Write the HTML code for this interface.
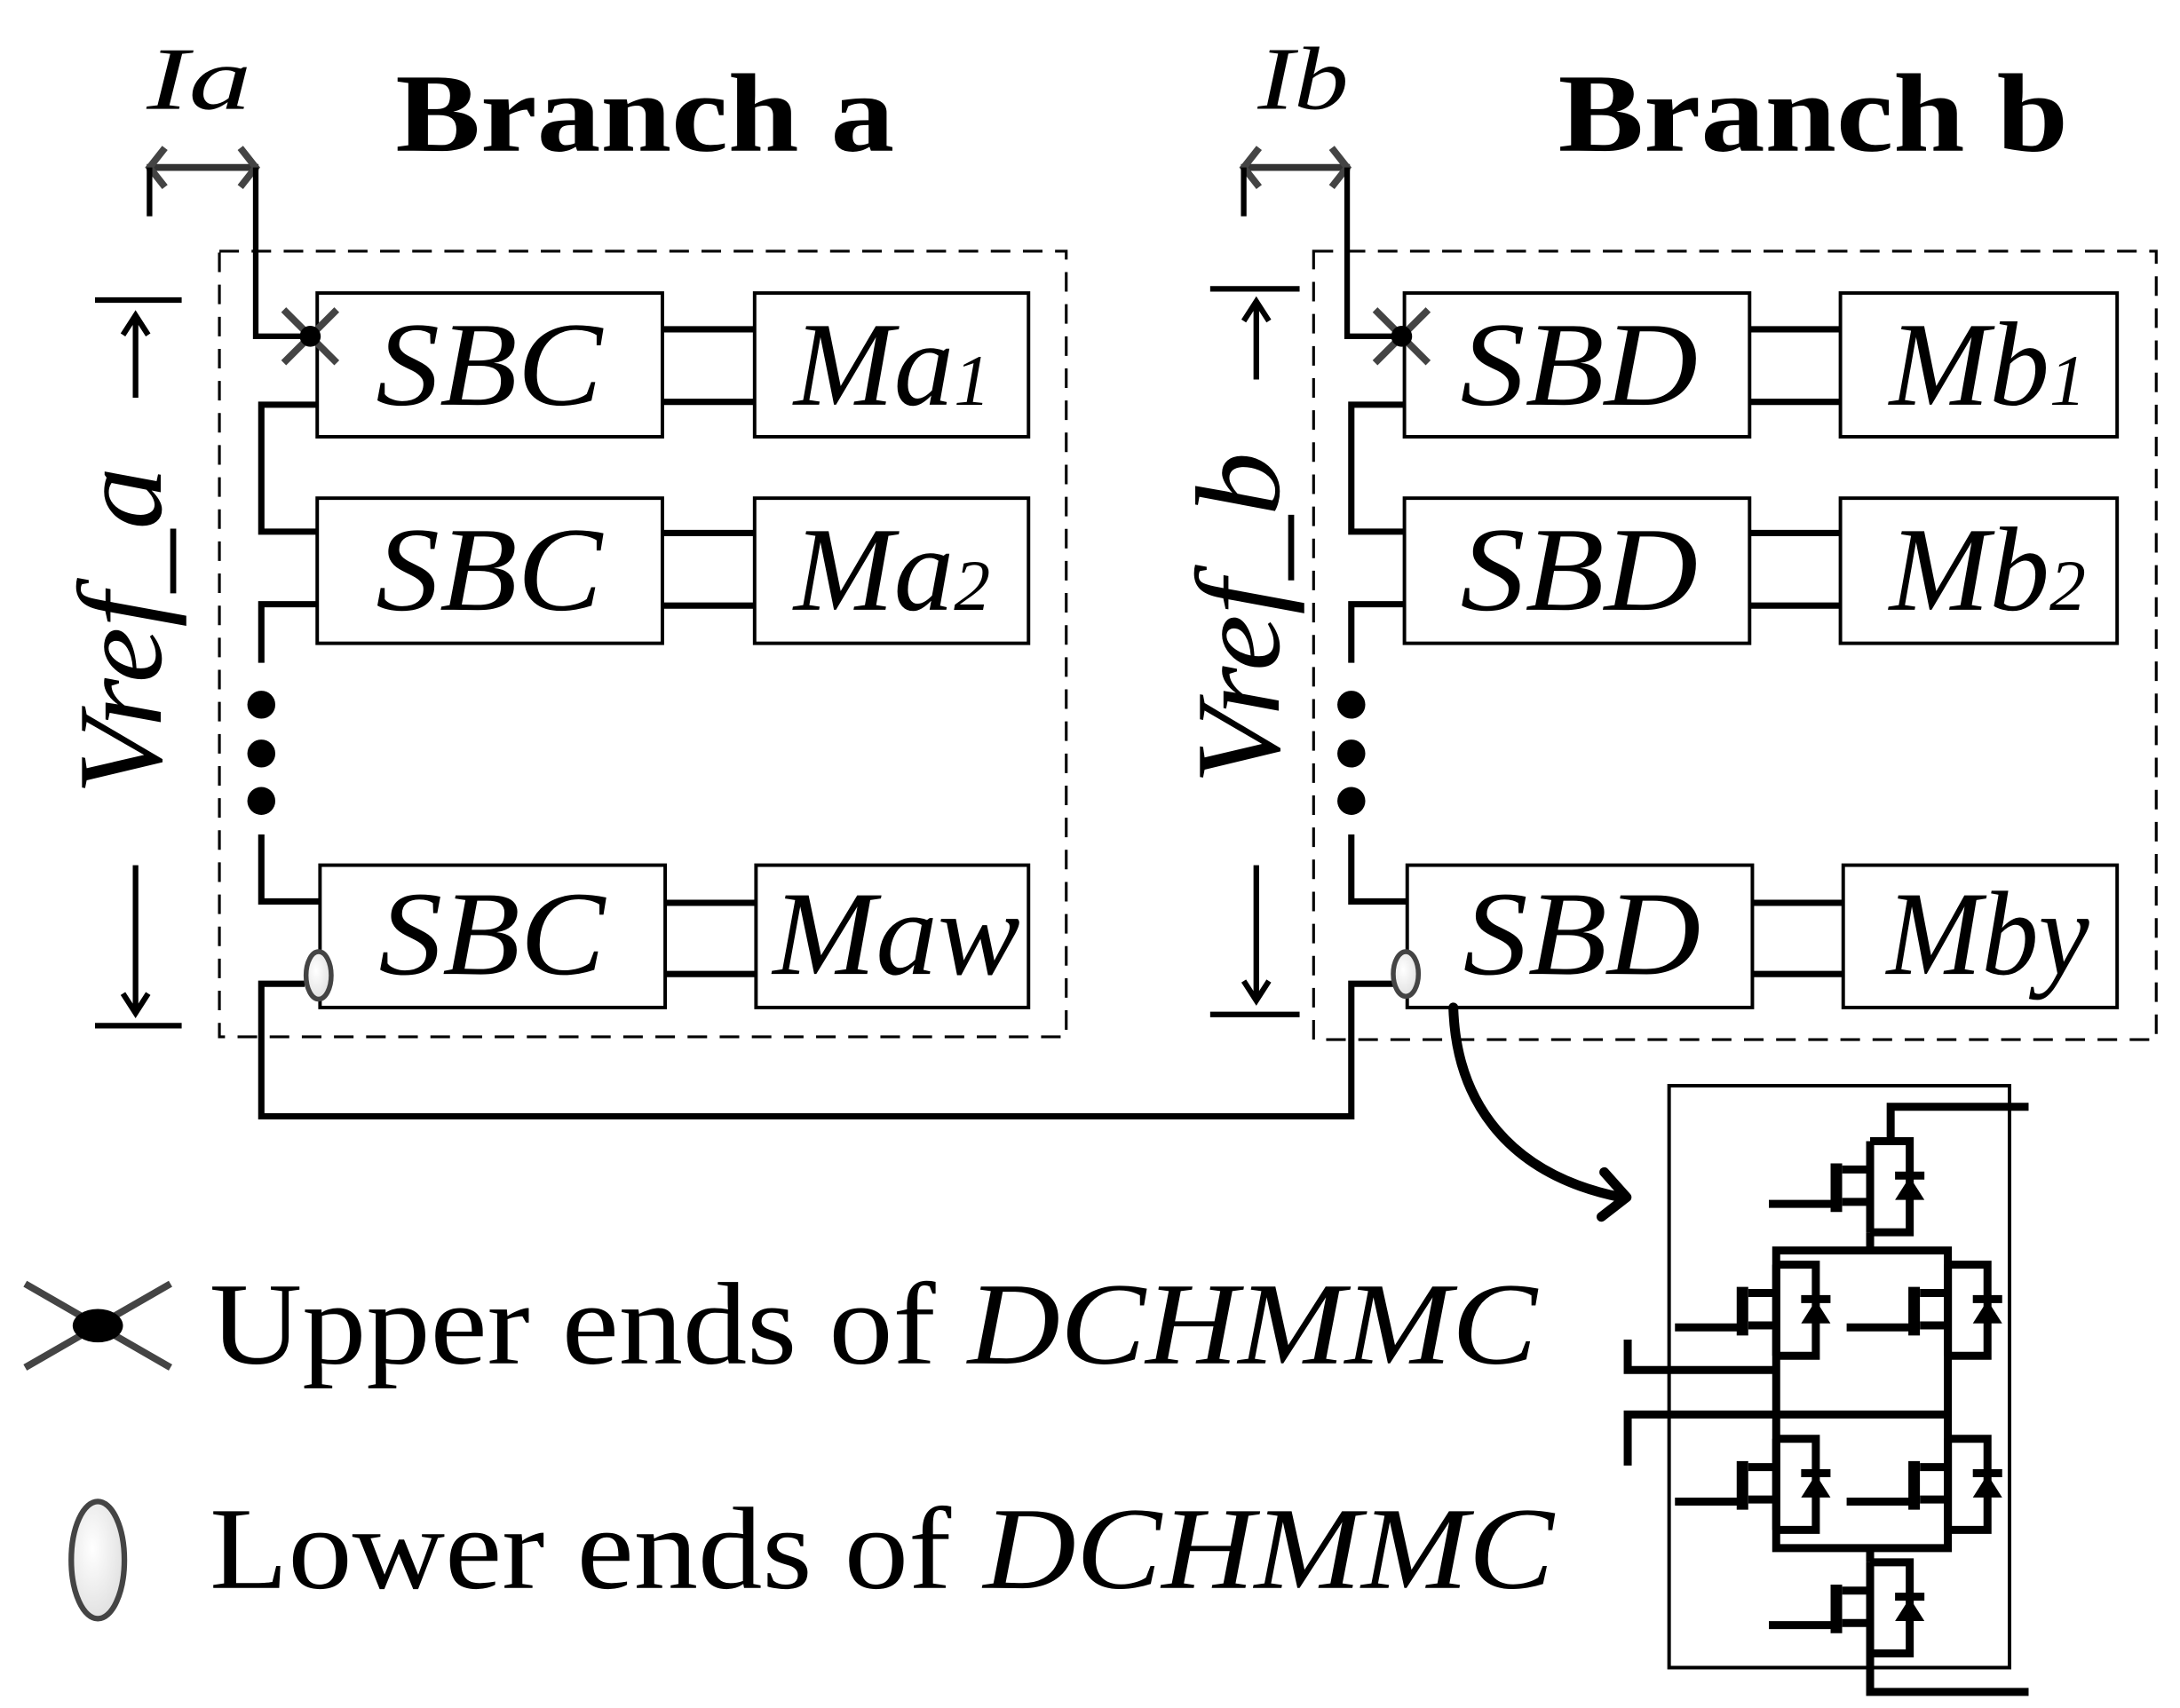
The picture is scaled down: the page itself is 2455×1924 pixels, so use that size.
<!DOCTYPE html>
<html><head><meta charset="utf-8"><style>html,body{margin:0;padding:0;background:#fff}svg{display:block}</style></head>
<body>
<svg width="2455" height="1924" viewBox="0 0 1560 1224" preserveAspectRatio="none" xmlns="http://www.w3.org/2000/svg">
<defs>
<radialGradient id="eg" cx="0.4" cy="0.4" r="0.7"><stop offset="0" stop-color="#fff"/><stop offset="1" stop-color="#ddd"/></radialGradient>
<g id="xm"><line x1="-19" y1="-19" x2="19" y2="19" stroke="#444" stroke-width="5"/><line x1="19" y1="-19" x2="-19" y2="19" stroke="#444" stroke-width="5"/><circle r="7.5" fill="#000"/></g>
<g id="sw" fill="none" stroke="#000">
<path d="M0,0 H135 V225 H0 M0,0 V225 M-95,70 H0 M-95,150 H0 M-345,155 H-115" stroke-width="9" vector-effect="non-scaling-stroke"/>
<path d="M-115,55 V175" stroke-width="13" vector-effect="non-scaling-stroke"/>
<path d="M85,85 H185" stroke-width="9" vector-effect="non-scaling-stroke"/>
<polygon points="85,145 185,145 135,88" fill="#000" stroke="none"/>
</g>
</defs>
<g font-family="'Liberation Serif', serif" fill="#000">
<text x="105" y="78" font-size="64" font-style="italic" textLength="75" lengthAdjust="spacingAndGlyphs">Ia</text>
<text x="283" y="108" font-size="80" font-weight="bold" textLength="357" lengthAdjust="spacingAndGlyphs">Branch a</text>
<text x="900" y="78" font-size="64" font-style="italic" textLength="65" lengthAdjust="spacingAndGlyphs">Ib</text>
<text x="1115" y="108" font-size="80" font-weight="bold" textLength="365" lengthAdjust="spacingAndGlyphs">Branch b</text>
</g>
<g fill="none" stroke="#000">
<path d="M105,120 H185" stroke="#333" stroke-width="5"/>
<path d="M118,106 L107,120 L118,134 M172,106 L183,120 L172,134" stroke="#444" stroke-width="5"/>
<path d="M107,120 V155" stroke-width="4"/>
<path d="M183,120 V241 H222" stroke-width="4"/>
<path d="M888,120 H966" stroke="#333" stroke-width="5"/>
<path d="M901,106 L890,120 L901,134 M953,106 L964,120 L953,134" stroke="#444" stroke-width="5"/>
<path d="M890,120 V155" stroke-width="4"/>
<path d="M964,120 V241 H1003" stroke-width="4"/>
<rect x="157" y="180" width="606" height="563" stroke-width="2" stroke-dasharray="14,9"/>
<rect x="940" y="180" width="603" height="565" stroke-width="2" stroke-dasharray="14,9"/>
<g stroke-width="2.5">
<rect x="227" y="210" width="247" height="103"/><rect x="540" y="210" width="196" height="103"/>
<rect x="227" y="357" width="247" height="104"/><rect x="540" y="357" width="196" height="104"/>
<rect x="229" y="620" width="247" height="102"/><rect x="541" y="620" width="195" height="102"/>
<rect x="1005" y="210" width="247" height="103"/><rect x="1317" y="210" width="198" height="103"/>
<rect x="1005" y="357" width="247" height="104"/><rect x="1317" y="357" width="198" height="104"/>
<rect x="1007" y="620" width="247" height="102"/><rect x="1319" y="620" width="196" height="102"/>
</g>
<g stroke-width="4.5">
<path d="M474,236 H540 M474,288 H540 M474,382 H540 M474,434 H540 M476,647 H541 M476,698 H541"/>
<path d="M1252,236 H1317 M1252,288 H1317 M1252,382 H1317 M1252,434 H1317 M1254,647 H1319 M1254,698 H1319"/>
<path d="M227,290 H187 V381 H227 M227,433 H187 V475 M187,598 V646 H229"/>
<path d="M1005,290 H967 V381 H1005 M1005,433 H967 V475 M967,598 V646 H1007"/>
<path d="M218,705 H187 V800 H967 V705 H997"/>
</g>
<g stroke-width="4">
<path d="M68,215 H130 M97,285 V226 M88,240 L97,226 L106,240"/>
<path d="M68,735 H130 M97,620 V726 M88,712 L97,726 L106,712"/>
<path d="M866,207 H930 M899,272 V216 M890,230 L899,216 L908,230"/>
<path d="M866,727 H930 M899,620 V717 M890,703 L899,717 L908,703"/>
</g>
<path d="M1040,722 C1042,790 1080,842 1160,858" stroke-width="7" stroke-linecap="round"/>
<path d="M1148,840 L1164,858 L1146,872" stroke-width="7" stroke-linecap="round" stroke-linejoin="round"/>
</g>
<g fill="#000">
<circle cx="187" cy="505" r="10"/><circle cx="187" cy="540" r="10"/><circle cx="187" cy="574" r="10"/>
<circle cx="967" cy="505" r="10"/><circle cx="967" cy="540" r="10"/><circle cx="967" cy="574" r="10"/>
</g>
<use href="#xm" x="222" y="241"/>
<use href="#xm" x="1003" y="241"/>
<ellipse cx="228" cy="699" rx="9" ry="17" fill="url(#eg)" stroke="#444" stroke-width="3.5"/>
<ellipse cx="1006" cy="698" rx="9" ry="16" fill="url(#eg)" stroke="#444" stroke-width="3.5"/>
<g font-family="'Liberation Serif', serif" font-style="italic" fill="#000">
<text x="350" y="290" font-size="86" text-anchor="middle" textLength="162" lengthAdjust="spacingAndGlyphs">SBC</text>
<text x="350" y="437" font-size="86" text-anchor="middle" textLength="162" lengthAdjust="spacingAndGlyphs">SBC</text>
<text x="352" y="698" font-size="86" text-anchor="middle" textLength="162" lengthAdjust="spacingAndGlyphs">SBC</text>
<text x="1130" y="290" font-size="86" text-anchor="middle" textLength="170" lengthAdjust="spacingAndGlyphs">SBD</text>
<text x="1130" y="437" font-size="86" text-anchor="middle" textLength="170" lengthAdjust="spacingAndGlyphs">SBD</text>
<text x="1132" y="698" font-size="86" text-anchor="middle" textLength="170" lengthAdjust="spacingAndGlyphs">SBD</text>
<text x="568" y="290" font-size="86">Ma<tspan font-size="52">1</tspan></text>
<text x="568" y="437" font-size="86">Ma<tspan font-size="52">2</tspan></text>
<text x="553" y="698" font-size="86" textLength="177" lengthAdjust="spacingAndGlyphs">Maw</text>
<text x="1352" y="290" font-size="86">Mb<tspan font-size="52">1</tspan></text>
<text x="1352" y="437" font-size="86">Mb<tspan font-size="52">2</tspan></text>
<text x="1350" y="698" font-size="86" textLength="145" lengthAdjust="spacingAndGlyphs">Mby</text>
<text transform="translate(115,452) rotate(-90)" font-size="86" text-anchor="middle" textLength="235" lengthAdjust="spacingAndGlyphs">Vref_a</text>
<text transform="translate(915,443) rotate(-90)" font-size="86" text-anchor="middle" textLength="238" lengthAdjust="spacingAndGlyphs">Vref_b</text>
</g>
<g transform="translate(70,950)"><line x1="-52" y1="-30" x2="52" y2="30" stroke="#444" stroke-width="5"/><line x1="52" y1="-30" x2="-52" y2="30" stroke="#444" stroke-width="5"/><ellipse rx="18" ry="12" fill="#000"/></g>
<ellipse cx="70" cy="1118" rx="19" ry="42" fill="url(#eg)" stroke="#444" stroke-width="4"/>
<g font-family="'Liberation Serif', serif" font-size="84" fill="#000">
<text x="150" y="977" textLength="950" lengthAdjust="spacingAndGlyphs">Upper ends of <tspan font-style="italic">DCHMMC</tspan></text>
<text x="150" y="1138" textLength="962" lengthAdjust="spacingAndGlyphs">Lower ends of <tspan font-style="italic">DCHMMC</tspan></text>
</g>
<g transform="translate(1186,772.8) scale(0.21,0.2902)">
<rect x="40" y="18" width="1160" height="1437" fill="none" stroke="#000" stroke-width="4" vector-effect="non-scaling-stroke"/>
<path d="M795,155 V70 H1265 M725,380 V425 M405,425 H990 V1160 H405 Z M725,1160 V1195 M725,1420 V1515 H1265 M-101,645 V720 H405 M-101,956 V830 H990" fill="none" stroke="#000" stroke-width="9" vector-effect="non-scaling-stroke"/>
<use href="#sw" x="725" y="155"/>
<use href="#sw" x="405" y="460"/>
<use href="#sw" x="990" y="460"/>
<use href="#sw" x="405" y="890"/>
<use href="#sw" x="990" y="890"/>
<use href="#sw" x="725" y="1195"/>
</g>
</svg>
</body></html>
